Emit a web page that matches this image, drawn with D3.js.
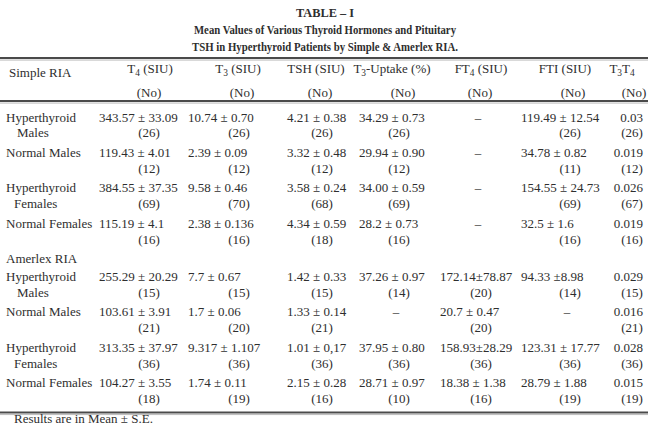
<!DOCTYPE html>
<html>
<head>
<meta charset="utf-8">
<script src="https://cdn.jsdelivr.net/npm/d3@7"></script>
<style>
  html, body { margin: 0; padding: 0; background: #fff; }
  text { font-family: "Liberation Serif", "DejaVu Serif", serif; fill: #2e2e2e; }
</style>
</head>
<body>
<div id="table"></div>
<script>
const titleLines = [
  "TABLE – I",
  "Mean Values of Various Thyroid Hormones and Pituitary",
  "TSH in Hyperthyroid Patients by Simple & Amerlex RIA."
];
const groups = ["Simple RIA", "Amerlex RIA"];
const subjects = [["Hyperthyroid", "Males"], ["Normal Males"], ["Hyperthyroid", "Females"], ["Normal Females"]];
const columns = ["T{4} (SIU)", "T{3} (SIU)", "TSH (SIU)", "T{3}-Uptake (%)", "FT{4} (SIU)", "FTI (SIU)", "T{3}T{4}"];
const countLabel = "(No)";

// one row per subject, one entry per column; null = not measured
const simpleValues = [
  ["343.57 ± 33.09", "10.74 ± 0.70", "4.21 ± 0.38", "34.29 ± 0.73", null, "119.49 ± 12.54", "0.03"],
  ["119.43 ± 4.01", "2.39 ± 0.09", "3.32 ± 0.48", "29.94 ± 0.90", null, "34.78 ± 0.82", "0.019"],
  ["384.55 ± 37.35", "9.58 ± 0.46", "3.58 ± 0.24", "34.00 ± 0.59", null, "154.55 ± 24.73", "0.026"],
  ["115.19 ± 4.1", "2.38 ± 0.136", "4.34 ± 0.59", "28.2 ± 0.73", null, "32.5 ± 1.6", "0.019"]
];
const simpleN = [
  [26, 26, 26, 26, null, 26, 26],
  [12, 12, 12, 12, null, 11, 12],
  [69, 70, 68, 69, null, 69, 67],
  [16, 16, 18, 16, null, 16, 16]
];
const amerlexValues = [
  ["255.29 ± 20.29", "7.7 ± 0.67", "1.42 ± 0.33", "37.26 ± 0.97", "172.14±78.87", "94.33 ±8.98", "0.029"],
  ["103.61 ± 3.91", "1.7 ± 0.06", "1.33 ± 0.14", null, "20.7 ± 0.47", null, "0.016"],
  ["313.35 ± 37.97", "9.317 ± 1.107", "1.01 ± 0,17", "37.95 ± 0.80", "158.93±28.29", "123.31 ± 17.77", "0.028"],
  ["104.27 ± 3.55", "1.74 ± 0.11", "2.15 ± 0.28", "28.71 ± 0.97", "18.38 ± 1.38", "28.79 ± 1.88", "0.015"]
];
const amerlexN = [
  [15, 15, 15, 14, 20, 14, 15],
  [21, 20, 21, null, 20, null, 21],
  [36, 36, 36, 36, 36, 36, 36],
  [18, 19, 16, 10, 16, 19, 19]
];
const footnote = "Results are in Mean ± S.E.";

const W = 650, H = 430;
const fs = 13;

const svg = d3.select('#table')
  .append('svg')
  .attr('width', W)
  .attr('height', H);

// vertical position in text lines, one line ~17.7px
const lineY = d3.scaleLinear().domain([0, 15]).range([117, 382.5]);
const valueX = d3.scaleOrdinal().domain(d3.range(columns.length)).range([99, 188, 287, 359, 440, 521, 643]);
const countX = d3.scaleOrdinal().domain(d3.range(columns.length)).range([149, 239, 322, 399, 481, 570, 632]);
const headX = d3.scaleOrdinal().domain(d3.range(columns.length)).range([150, 238, 316, 392, 481, 565, 622]);
const headNoX = d3.scaleOrdinal().domain(d3.range(columns.length)).range([149, 242, 320, 403, 480, 573, 634]);

function rich(sel, str) {
  const parts = str.split(/(\{\d\})/).filter(p => p.length);
  let shifted = false;
  parts.forEach(p => {
    const m = p.match(/^\{(\d)\}$/);
    if (m) {
      sel.append('tspan').attr('font-size', fs * 0.72).attr('dy', shifted ? 0 : 3).text(m[1]);
      shifted = true;
    } else {
      sel.append('tspan').attr('dy', shifted ? -3 : 0).text(p);
      shifted = false;
    }
  });
}

// title (the printed face is condensed, so squeeze the subtitle lines)
svg.selectAll('.title')
  .data(titleLines)
  .enter()
  .append('text')
  .attr('class', 'title')
  .attr('x', W / 2)
  .attr('y', (d, i) => [12, 29, 46][i])
  .attr('dy', '0.35em')
  .attr('text-anchor', 'middle')
  .attr('font-weight', 'bold')
  .attr('font-size', 13.5)
  .attr('textLength', (d, i) => [58, 262, 266][i])
  .attr('lengthAdjust', 'spacingAndGlyphs')
  .text(d => d);

// rules
const rules = [lineY(-3.33), lineY(-0.9), lineY(16.7)];
svg.selectAll('.rule')
  .data(rules)
  .enter()
  .append('line')
  .attr('class', 'rule')
  .attr('x1', 0)
  .attr('x2', 648)
  .attr('y1', d => d)
  .attr('y2', d => d)
  .attr('stroke', '#4a4a4a')
  .attr('stroke-width', 2);
svg.selectAll('.rule2')
  .data(rules)
  .enter()
  .append('line')
  .attr('x1', 0)
  .attr('x2', 648)
  .attr('y1', d => d + 2)
  .attr('y2', d => d + 2)
  .attr('stroke', '#bbb')
  .attr('stroke-width', 1);

// header
const head = svg.append('g').attr('font-size', fs);
head.append('text')
  .attr('x', 9)
  .attr('y', lineY(-2.5))
  .attr('dy', '0.35em')
  .text(groups[0]);
columns.forEach((c, j) => {
  const t = head.append('text')
    .attr('x', headX(j))
    .attr('y', lineY(-2.5))
    .attr('dy', '0.35em')
    .attr('text-anchor', 'middle');
  rich(t, c);
  head.append('text')
    .attr('x', headNoX(j))
    .attr('y', lineY(-1.4))
    .attr('dy', '0.35em')
    .attr('text-anchor', 'middle')
    .text(countLabel);
});

// body
const body = svg.append('g').attr('font-size', fs);
body.append('text')
  .attr('x', 6)
  .attr('y', lineY(8))
  .attr('dy', '0.35em')
  .text(groups[1]);

[[simpleValues, simpleN], [amerlexValues, amerlexN]].forEach(([vals, ns], g) => {
  vals.forEach((row, i) => {
    const line = g * 9 + i * 2;
    subjects[i].forEach((s, k) => {
      body.append('text')
        .attr('x', k === 0 ? 6 : (s === 'Males' ? 17 : 14))
        .attr('y', lineY(line + k * 0.9))
        .attr('dy', '0.35em')
        .text(s);
    });
    row.forEach((v, j) => {
      const last = j === columns.length - 1;
      if (v === null) {
        body.append('text')
          .attr('x', countX(j) - 3)
          .attr('y', lineY(line))
          .attr('dy', '0.35em')
          .attr('text-anchor', 'middle')
          .text('–');
        return;
      }
      body.append('text')
        .attr('x', valueX(j))
        .attr('y', lineY(line))
        .attr('dy', '0.35em')
        .attr('text-anchor', last ? 'end' : 'start')
        .text(v);
      body.append('text')
        .attr('x', countX(j))
        .attr('y', lineY(line + 0.9))
        .attr('dy', '0.35em')
        .attr('text-anchor', 'middle')
        .text(`(${ns[i][j]})`);
    });
  });
});

svg.append('text')
  .attr('x', 14)
  .attr('y', lineY(17.05))
  .attr('dy', '0.35em')
  .attr('font-size', fs)
  .text(footnote);
</script>
</body>
</html>
